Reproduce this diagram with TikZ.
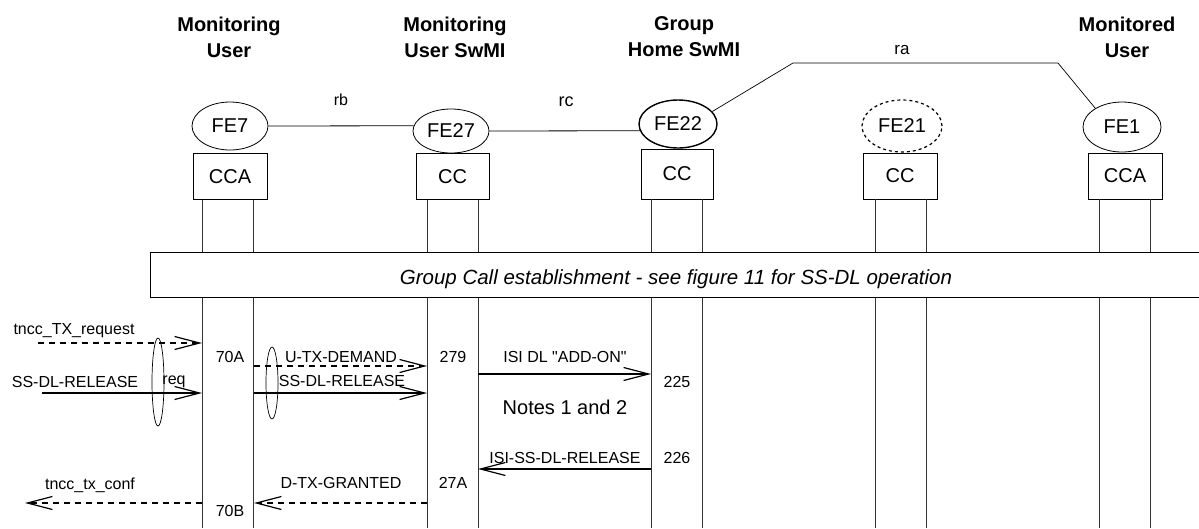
\documentclass[tikz,border=0pt]{standalone}
\usepackage{fontspec}
\setmainfont{Liberation Sans}
\usetikzlibrary{shapes.geometric,arrows.meta}
\begin{document}
\begin{tikzpicture}[x=1pt,y=-1pt,
  fe/.style={ellipse,draw,line width=0.8pt,inner sep=0pt,font=\fontsize{20}{24}\selectfont},
  ccbox/.style={rectangle,draw,line width=0.8pt,inner sep=0pt,minimum width=74pt,minimum height=46pt,font=\fontsize{20}{24}\selectfont},
  ttl/.style={align=center,inner sep=0pt,font=\fontsize{20}{26}\selectfont\bfseries},
  life/.style={draw=black!80,line width=0.8pt},
  lbl/.style={inner sep=0pt,font=\fontsize{16}{19}\selectfont},
  tipv/.style={-{Straight Barb[length=25pt,width=13pt,line width=1.2pt]}},
  msg/.style={tipv,line width=1.5pt},
  dmsg/.style={tipv,line width=1.4pt,dash pattern=on 6pt off 5pt},
  grp/.style={ellipse,draw,line width=0.7pt,inner sep=0pt,minimum width=12pt},
  link/.style={draw,line width=0.8pt}
]
\useasboundingbox (0,0) rectangle (1199,528);
\fill[white] (0,0) rectangle (1199,528);

% titles
\node[ttl] (t1) at (229,37) {Monitoring\\User};
\node[ttl] (t2) at (455,37) {Monitoring\\User SwMI};
\node[ttl] (t3) at (684,37) {Group\\Home SwMI};
\node[ttl] (t4) at (1127,37) {Monitored\\User};

% functional entities
\node[fe,minimum width=76pt,minimum height=48pt] (FE7) at (230,126) {FE7};
\node[fe,minimum width=76pt,minimum height=44pt] (FE27) at (451,131) {FE27};
\node[fe,minimum width=78pt,minimum height=48pt,line width=1.4pt] (FE22) at (678,124) {FE22};
\node[fe,minimum width=80pt,minimum height=52pt,dashed,line width=1.2pt] (FE21) at (902,126) {FE21};
\node[fe,minimum width=78pt,minimum height=50pt] (FE1) at (1122,127) {FE1};

% boxes
\node[ccbox] (CCA7) at (230,176.5) {CCA};
\node[ccbox,minimum width=73pt] (CC27) at (452.5,176.5) {CC};
\node[ccbox,minimum width=72pt,minimum height=50pt] (CC22) at (677,174) {CC};
\node[ccbox] (CC21) at (900,176) {CC};
\node[ccbox] (CCA1) at (1125,176) {CCA};

% relationships
\draw[link] (FE7.east) -- (FE27.172);
\draw[link] (FE27.east) -- (FE22.190);
\coordinate (ra1) at (793,63);
\coordinate (ra2) at (1058,63);
\draw[line width=0.7pt] (FE22.20) -- (ra1) -- (ra2) -- (FE1.145);
\node[lbl] (rb) at (341,100) {rb};
\node[lbl,font=\fontsize{18}{21}\selectfont] (rc) at (566,102) {rc};
\node[lbl,font=\fontsize{17}{20}\selectfont] (ra) at (902,50) {ra};

% lifelines
\foreach \n/\a/\b in {CCA7/202/253, CC27/427/478, CC22/651/702, CC21/875/926, CCA1/1099/1150} {
  \draw[life] (\a,0 |- \n.south) -- (\a,252) (\b,0 |- \n.south) -- (\b,252);
  \draw[life] (\a,297) -- (\a,528) (\b,297) -- (\b,528);
}

% banner
\draw[line width=0.8pt] (1199,252) -- (150,252) -- (150,297) -- (1199,297);
\node[inner sep=0pt,font=\fontsize{20.5}{24}\selectfont\itshape] (banner) at (676,279) {Group Call establishment - see figure 11 for SS-DL operation};

% messages
\coordinate (m1s) at (38,343);   \coordinate (m1e) at (202,343);
\coordinate (m2s) at (42,393);   \coordinate (m2e) at (202,393);
\coordinate (m3s) at (254,366);  \coordinate (m3e) at (427,366);
\coordinate (m4s) at (254,393);  \coordinate (m4e) at (427,393);
\coordinate (m5s) at (478,374);  \coordinate (m5e) at (651,374);
\coordinate (m6s) at (651,469);  \coordinate (m6e) at (478,469);
\coordinate (m7s) at (427,503);  \coordinate (m7e) at (254,503);
\coordinate (m8s) at (202,503);  \coordinate (m8e) at (25,503);

\draw[dmsg] (m1s) -- (m1e);
\draw[msg]  (m2s) -- (m2e);
\draw[dmsg] (m3s) -- (m3e);
\draw[msg]  (m4s) -- (m4e);
\draw[msg]  (m5s) -- (m5e);
\draw[msg]  (m6s) -- (m6e);
\draw[dmsg] (m7s) -- (m7e);
\draw[dmsg] (m8s) -- (m8e);

\node[lbl] (l1) at (74,331) {tncc\_TX\_request};
\node[lbl] (l2) at (75,382) {SS-DL-RELEASE};
\node[lbl] (l2r) at (174,382) {req};
\node[lbl] (l3) at (341,357) {U-TX-DEMAND};
\node[lbl] (l4) at (342,381) {SS-DL-RELEASE};
\node[lbl] (l5) at (565,357) {ISI DL \textquotedbl ADD-ON\textquotedbl};
\node[inner sep=0pt,font=\fontsize{20}{24}\selectfont] (notes) at (565,407) {Notes 1 and 2};
\node[lbl] (l6) at (565,458) {ISI-SS-DL-RELEASE};
\node[lbl] (l7) at (341,483) {D-TX-GRANTED};
\node[lbl] (l8) at (90,485) {tncc\_tx\_conf};

\node[lbl] (n70A) at (230,357) {70A};
\node[lbl] (n70B) at (230,511) {70B};
\node[lbl] (n279) at (453,357) {279};
\node[lbl] (n27A) at (453,483) {27A};
\node[lbl] (n225) at (677,382) {225};
\node[lbl] (n226) at (677,458) {226};

% grouping ellipses
\node[grp,minimum height=88pt] (g1) at (158,382) {};
\node[grp,minimum height=72pt] (g2) at (272,383) {};
\end{tikzpicture}
\end{document}
